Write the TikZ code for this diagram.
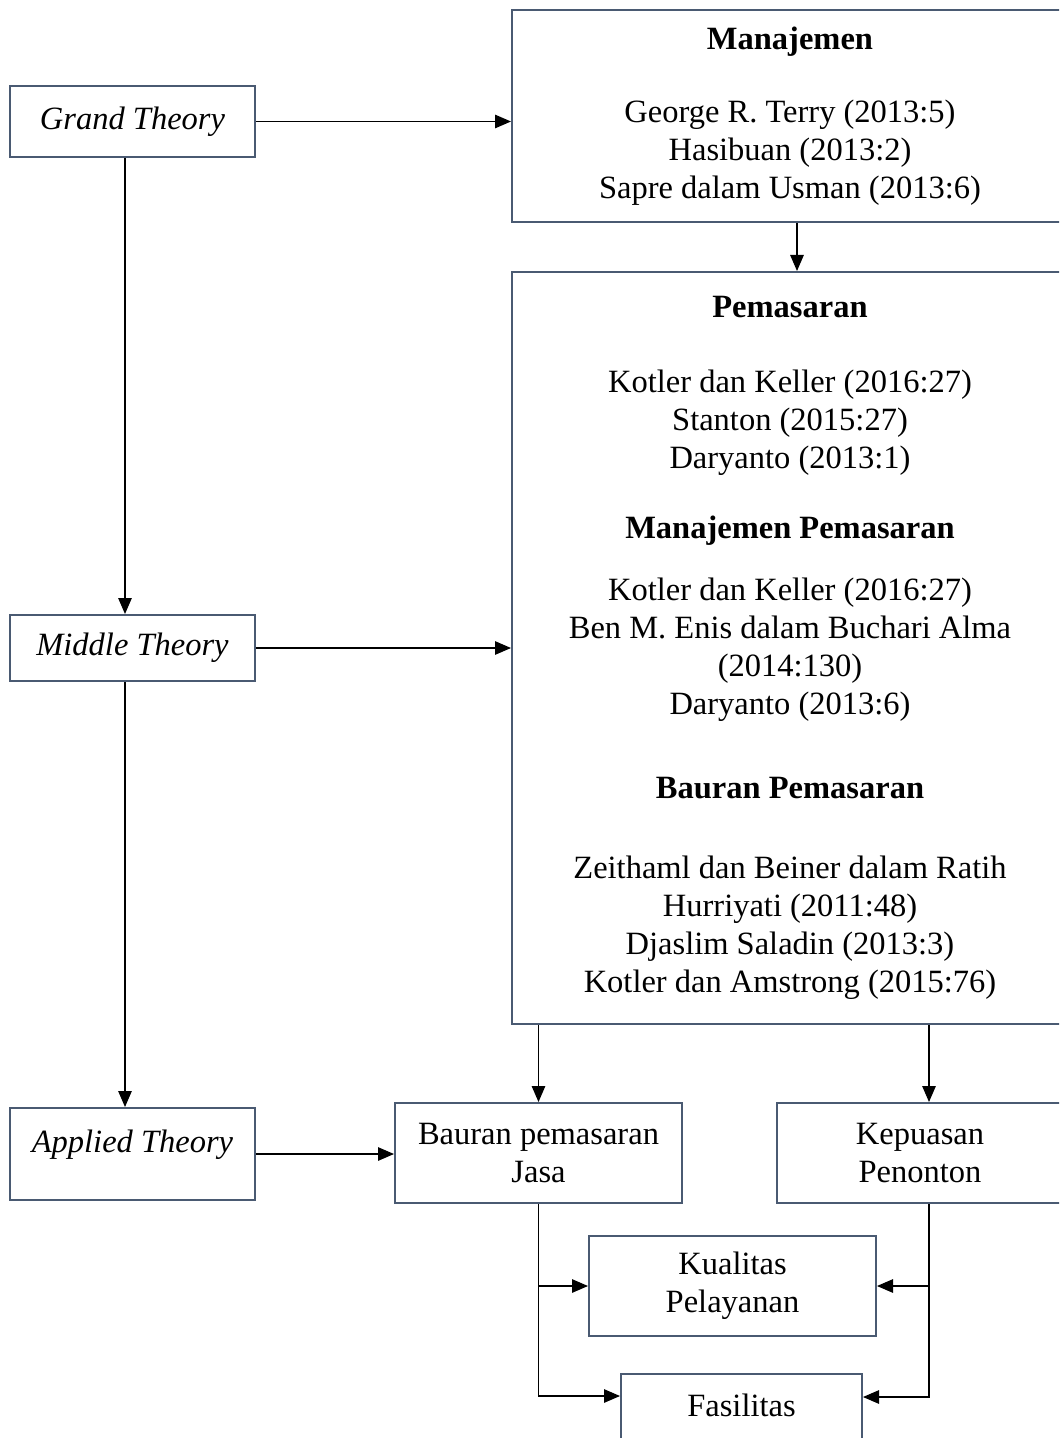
\documentclass[tikz,border=0pt]{standalone}
\usepackage{fontspec}
\setmainfont{Liberation Serif}
\usepackage{tikz}
\usetikzlibrary{arrows.meta}
\definecolor{boxline}{HTML}{4A5A72}
\tikzset{>/.tip={Triangle[length=6.4pt,width=5.4pt]},
  box/.style={draw=boxline, line width=0.8pt, align=center, inner sep=0pt,
    font=\fontsize{13}{15.2}\selectfont},
  link/.style={->, line width=0.5pt, black}}

\begin{document}
\begin{tikzpicture}[x=0.4pt,y=-0.4pt]
\useasboundingbox (0,0) rectangle (1059,1438);
\clip (0,0) rectangle (1059,1438);
% left column
\node[box, minimum width=98pt, minimum height=28.4pt] (grand) at (132.5,121.5) {\textit{Grand Theory}};
\node[box, minimum width=98pt, minimum height=26.4pt] (middle) at (132.5,648) {\textit{Middle Theory}};
\node[box, minimum width=98pt, minimum height=36.8pt, text depth=10.5pt] (applied) at (132.5,1154) {\textit{Applied Theory}};
% theory boxes
\node[box, minimum width=222.4pt, minimum height=84.8pt] (manaj) at (790,116) {\textbf{Manajemen}\\[14pt]
George R. Terry (2013:5)\\
Hasibuan (2013:2)\\
Sapre dalam Usman (2013:6)};
\node[box, minimum width=222.4pt, minimum height=300.8pt] (pemas) at (790,648) {\textbf{Pemasaran}\\[14.8pt]
Kotler dan Keller (2016:27)\\
Stanton (2015:27)\\
Daryanto (2013:1)\\[12.8pt]
\textbf{Manajemen Pemasaran}\\[9.6pt]
Kotler dan Keller (2016:27)\\
Ben M. Enis dalam Buchari Alma\\
(2014:130)\\
Daryanto (2013:6)\\[18.4pt]
\textbf{Bauran Pemasaran}\\[16.8pt]
Zeithaml dan Beiner dalam Ratih\\
Hurriyati (2011:48)\\
Djaslim Saladin (2013:3)\\
Kotler dan Amstrong (2015:76)};
% variables
\node[box, minimum width=114.8pt, minimum height=40pt] (bauran) at (538.5,1153) {Bauran pemasaran\\ Jasa};
\node[box, minimum width=114.4pt, minimum height=40pt] (kepuasan) at (920,1153) {Kepuasan\\ Penonton};
\node[box, minimum width=114.8pt, minimum height=40pt] (kualitas) at (732.5,1286) {Kualitas\\ Pelayanan};
\node[box, minimum width=96.4pt, minimum height=40pt] (fasilitas) at (741.5,1424) {Fasilitas\\ \mbox{}};
% connectors
\draw[link] (grand.east) to (grand.east -| manaj.west);
\draw[link] ([xshift=2.8pt]manaj.south) to ([xshift=2.8pt]manaj.south |- pemas.north);
\draw[link] (middle.east) to (middle.east -| pemas.west);
\draw[link] ([xshift=-3pt]grand.south) to ([xshift=-3pt]middle.north);
\draw[link] ([xshift=-3pt]middle.south) to ([xshift=-3pt]applied.north);
\draw[link] (applied.east) to (applied.east -| bauran.west);
\draw[link] (bauran.north |- pemas.south) to (bauran.north);
\draw[link] ([xshift=3.6pt]kepuasan.north |- pemas.south) to ([xshift=3.6pt]kepuasan.north);
\draw[link] (bauran.south) |- ([yshift=-9.2pt]fasilitas.north west);
\draw[link] (bauran.south |- kualitas.west) to (kualitas.west);
\draw[link] ([xshift=3.6pt]kepuasan.south) |- ([yshift=-9.6pt]fasilitas.north east);
\draw[link] ([xshift=3.6pt]kepuasan.south |- kualitas.east) to (kualitas.east);
\end{tikzpicture}
\end{document}
